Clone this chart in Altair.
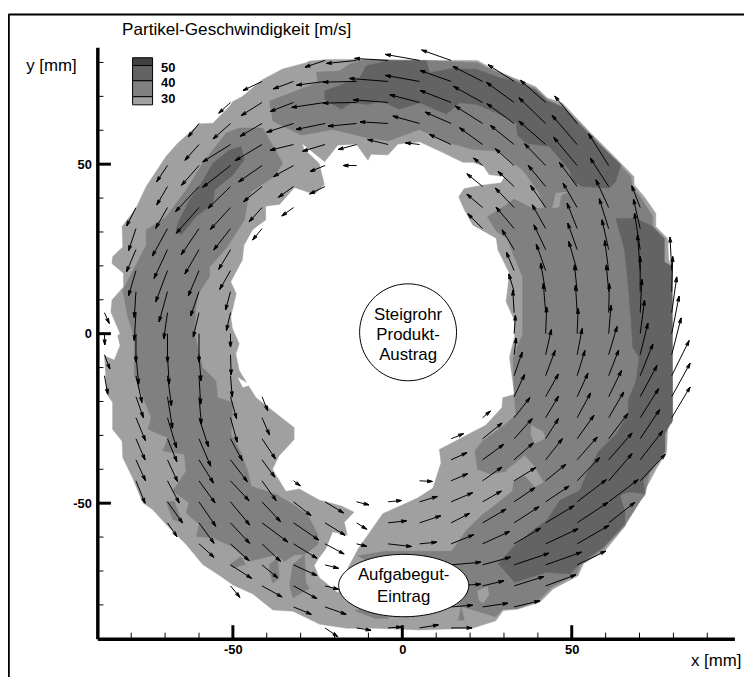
import math
import numpy as np
import pandas as pd
import altair as alt

FONT = "Liberation Sans"
LIGHT, MID, DARK, DARKEST = "#a0a0a0", "#808080", "#636363", "#404040"

# measured grid of vector origins [mm]
X_GRID = {-1: -87.9, 0: -78.6, 1: -69.3, 2: -60.0, 3: -50.7, 4: -41.4, 5: -32.1, 6: -22.8, 7: -13.5, 8: -4.2,
          9: 5.1, 10: 14.4, 11: 23.7, 12: 33.0, 13: 42.3, 14: 51.6, 15: 60.9, 16: 70.2, 17: 79.5}
Y_GRID = [80.6, 74.4, 68.2, 62.0, 55.8, 49.6, 43.4, 37.2, 31.0, 24.8, 18.6, 12.4, 6.2, 0.0, -6.2, -12.4, -18.6,
          -24.8, -31.0, -37.2, -43.4, -49.6, -55.8, -62.0, -68.2, -74.4, -80.6, -86.8]

# vectors per row: (column, u, v) with v counted downwards
ROWS = {
 0: [(6,-60,20),(7,-90,9),(8,-100,-6),(9,-102,-18),(10,-88,-31)],
 1: [(4,-57,27),(5,-60,22),(6,-85,11),(7,-100,2),(8,-116,-9),(9,-102,-18),(10,-93,-33),(11,-89,-45),(12,-78,-50)],
 2: [(3,-35,32),(4,-62,39),(5,-70,27),(6,-100,15),(7,-100,2),(8,-104,-8),(9,-89,-23),(10,-93,-36),(11,-87,-48),(12,-83,-60),(13,-75,-66)],
 3: [(2,-32,40),(3,-52,46),(4,-65,38),(5,-80,26),(6,-87,18),(7,-85,8),(8,-84,-5),(9,-80,-22),(10,-78,-34),(11,-82,-52),(12,-81,-59),(13,-80,-77),(14,-67,-82)],
 4: [(2,-42,47),(3,-83,52),(4,-80,48),(5,-70,17),(6,-67,20),(7,-55,15),(8,-61,-15),(9,-42,-5),(10,-65,-30),(11,-69,-50),(12,-71,-57),(13,-80,-70),(14,-75,-87)],
 5: [(1,-32,48),(2,-52,59),(3,-83,65),(4,-70,49),(5,-60,33),(6,-45,18),(7,-40,0),(11,-27,-22),(12,-56,-50),(13,-63,-65),(14,-70,-84),(15,-60,-95)],
 6: [(1,-32,55),(2,-70,75),(3,-67,65),(4,-55,45),(5,-45,32),(6,-46,22),(11,-47,-38),(12,-48,-45),(13,-52,-63),(14,-53,-72),(15,-55,-85)],
 7: [(0,-28,55),(1,-35,62),(2,-68,77),(3,-60,65),(4,-38,42),(5,-35,25),(11,-47,-40),(12,-56,-58),(13,-45,-66),(14,-42,-73),(15,-38,-83),(16,-25,-65)],
 8: [(0,-22,66),(1,-45,82),(2,-53,78),(3,-50,64),(4,-28,34),(11,-44,-44),(12,-54,-64),(13,-40,-71),(14,-30,-76),(15,-28,-89),(16,-20,-88)],
 9: [(0,-28,66),(1,-40,86),(2,-42,73),(3,-35,59),(12,-36,-59),(13,-35,-74),(14,-28,-79),(15,-20,-89),(16,-17,-109)],
 10: [(0,-22,75),(1,-35,93),(2,-32,76),(3,-32,56),(12,-23,-55),(13,-28,-79),(14,-25,-87),(15,-12,-90),(16,-8,-107),(17,-5,-100)],
 11: [(0,-5,77),(1,-25,90),(2,-25,73),(3,-15,55),(12,-16,-53),(13,-15,-85),(14,-8,-80),(15,-7,-80),(16,0,-105),(17,3,-105)],
 12: [(-1,14,32),(0,-5,83),(1,-11,78),(2,-17,73),(3,-12,53),(12,-4,-67),(13,-7,-87),(14,-5,-82),(15,2,-87),(16,5,-99),(17,15,-107)],
 13: [(-1,1,33),(0,0,85),(1,0,85),(2,0,85),(3,0,40),(12,4,-55),(13,3,-80),(14,3,-75),(15,7,-85),(16,13,-100),(17,22,-112)],
 14: [(-1,16,43),(0,8,88),(1,5,88),(2,6,78),(3,2,60),(12,6,-50),(13,17,-75),(14,15,-78),(15,25,-84),(16,23,-94),(17,28,-110)],
 15: [(-1,10,55),(0,18,80),(1,12,90),(2,5,85),(3,5,63),(12,24,-70),(13,28,-75),(14,23,-75),(15,30,-77),(16,38,-95),(17,52,-105)],
 16: [(0,22,62),(1,15,94),(2,7,82),(3,18,65),(4,17,42),(12,31,-66),(13,38,-68),(14,32,-70),(15,38,-78),(16,50,-93),(17,55,-100)],
 17: [(0,28,68),(1,27,90),(2,28,86),(3,20,73),(4,22,51),(11,23,-20),(12,47,-60),(13,38,-64),(14,40,-74),(15,45,-77),(16,55,-87),(17,55,-92)],
 18: [(0,27,63),(1,28,68),(2,35,82),(3,35,65),(4,40,60),(10,37,-15),(11,58,-47),(12,54,-60),(13,38,-60),(14,50,-70),(15,57,-75),(16,58,-87)],
 19: [(0,28,62),(1,30,65),(2,43,69),(3,50,65),(4,38,52),(10,47,-21),(11,63,-46),(12,57,-50),(13,50,-63),(14,60,-68),(15,70,-80),(16,67,-86)],
 20: [(0,27,67),(1,35,66),(2,48,66),(3,55,59),(4,42,59),(5,20,15),(9,38,2),(10,49,-21),(11,58,-41),(12,64,-39),(13,60,-49),(14,67,-69),(15,70,-81),(16,75,-79)],
 21: [(1,45,63),(2,50,73),(3,57,69),(4,55,59),(5,52,41),(6,55,33),(7,37,9),(8,40,-4),(9,53,-16),(10,64,-27),(11,56,-32),(12,62,-42),(13,70,-47),(14,87,-66),(15,88,-66)],
 22: [(1,28,41),(2,45,61),(3,57,61),(4,77,57),(5,75,51),(6,60,37),(7,30,19),(8,55,-6),(9,63,-21),(10,55,-28),(11,70,-41),(12,74,-48),(13,85,-51),(14,92,-61),(15,78,-61)],
 23: [(2,45,40),(3,55,50),(4,55,52),(5,70,43),(6,57,30),(7,30,7),(8,70,8),(9,51,-5),(10,67,-27),(11,81,-37),(12,79,-47),(13,97,-45),(14,95,-55)],
 24: [(3,63,40),(4,47,39),(5,70,32),(6,40,10),(10,89,-8),(11,83,-23),(12,104,-35),(13,107,-38),(14,85,-41)],
 25: [(3,28,34),(4,60,33),(5,70,38),(6,40,10),(10,89,-5),(11,63,-15),(12,89,-28),(13,90,-33)],
 26: [(5,53,22),(6,63,22),(10,64,-5),(11,76,-11),(12,76,-18)],
 27: [(6,38,26),(7,43,7),(8,40,-3),(9,56,-9),(10,62,0)],
}
VECTOR_SCALE = 1 / 10.15

OUTER = [(-27.4,80.4),(-22,80.9),(-7.9,80.9),(7.9,80.6),(22.2,80.6),(26.1,78.4),(33,75.4),(39.4,72.8),(42.8,69.5),(47.3,68),
 (55.1,59.7),(64.5,50.3),(68.4,46.3),(68.4,43.9),(71.4,40.4),(74.8,35.5),(74.8,31.6),(78.3,28.1),(78.6,21.7),(79.6,19.7),
 (79.6,-25.7),(78.3,-27.7),(78,-34.9),(75,-39.8),(72.1,-45.2),(71.6,-47.7),(66.2,-53.6),(65.9,-56.6),(59.8,-64),(53.4,-67.9),(51.9,-71.4),
 (44.5,-75.3),(40.6,-79.2),(34.2,-81.2),(29.7,-81.7),(27.6,-84.7),(20.7,-86.9),(4.9,-87.4),(-7.9,-86.9),(-16.5,-86.9),
 (-24.4,-85.7),(-32.3,-81.9),(-38.2,-81.5),(-44.1,-76.8),(-50,-74.1),(-53.5,-71.6),(-58.9,-68.1),(-63.8,-62.2),(-69.7,-56.3),
 (-73.7,-51.9),(-76.6,-49.9),(-79.6,-42.5),(-82.5,-36.6),(-82.7,-31.7),(-85.5,-28.2),(-85.5,-20.3),(-87.2,-17.8),(-87.9,-6.5),
 (-85,-7.8),(-83.3,-3.5),(-84,-0.6),(-83.3,0),(-86,6.4),(-85.7,9.9),(-82.3,13.8),(-82.3,17.8),(-85.7,20.7),(-85.5,22.7),(-82.5,25.6),
 (-82.7,31.6),(-78.6,37),(-75.6,43.4),(-69.7,52.3),(-66.3,56.2),(-59.9,61.9),(-55.9,62.1),(-51,67.1),(-50,68.5),(-47.1,70),
 (-41.2,75),(-35.3,78.1),(-28.4,79.9)]
HOLE = [(-29.4,55.8),(-22.9,50.6),(-19,55.5),(-13.6,55.8),(-10.1,50.9),(-9.2,52.8),(-4.2,52.6),(-1.3,55.8),(5.1,56.5),(12,53.3),(17.9,50.4),
 (20.9,50.4),(23.8,49.4),(25.6,46.8),(30,46.3),(29.1,44.6),(23.6,43.9),(18.2,42.9),(16.5,40.4),
 (18.2,36.5),(20.7,32),(27.6,28.1),(28.1,24.7),(31.5,17.8),(30.5,9.4),(33,3.9),(33,-1),(31.5,-7),(33,-17.8),(29.5,-18.8),(29.3,-21.8),
 (24.6,-26.9),(10.8,-34.1),(11.3,-38.1),(8.9,-45.5),(4.4,-48.4),(-5.8,-53),(-13.1,-63.4),(-16.1,-69),(-19,-76.3),
 (-24.4,-71.9),(-25.9,-68.4),(-24.4,-66),(-22.5,-63.5),(-20.5,-58.6),(-16.1,-59.5),(-17,-55.6),(-14.1,-52.6),(-18,-50.7),
 (-24.4,-49),(-30.4,-45.7),(-34.3,-46.4),(-38.2,-40),(-36.3,-36.1),(-31.8,-31.2),(-31.8,-27.7),(-43.1,-18.8),(-45.2,-15.4),(-48,-10.9),(-49,-6),
 (-48,-3),(-50,1.5),(-50.5,4.9),(-48.9,11.8),(-50.5,15.3),(-47.1,21.7),(-46.6,26.1),(-44.1,30.6),(-40.2,33.5),(-40.2,37.5),(-36.2,38),
 (-31.8,43),(-25.9,41),(-22.9,44),(-24.4,50.2),(-28.9,54.5)]
HOLE_SPOT = [(-48.5,-13),(-46,-14.5),(-44.5,-15),(-47,-15.8)]
MID_LEFT = [(-82.5,12.8),(-75.6,26.1),(-75.6,30.6),(-69.7,34.5),(-63.8,42.4),(-58.9,50.3),(-52,59.2),(-48.1,60.7),(-41.2,60.7),(-39.2,57.2),
 (-35.3,50.3),(-37.7,46.4),(-44.6,41.9),(-45.6,39.4),(-46.6,33.5),(-52,25.1),(-56.9,19.7),(-56.9,16.8),(-59.9,12.3),(-60.9,7.9),(-61.3,0),
 (-58.9,-10),(-55,-13.9),(-54.5,-18.8),(-50,-20.3),(-50.5,-29.7),(-47.6,-35.1),(-45.6,-40.5),(-44.6,-45),(-37.2,-47.4),(-32.3,-50.4),
 (-27.9,-53.4),(-24.9,-59.3),(-24.9,-62.2),(-28.9,-65.2),(-31.8,-65.2),(-34.8,-67.2),(-37.2,-65.2),(-41.2,-66.2),(-45.1,-67.2),(-50.5,-62.7),
 (-55.9,-60.2),(-60.8,-59.8),(-59.9,-56.3),(-63.8,-52.9),(-63,-49.9),(-67.7,-46.4),(-63.8,-40.5),(-64.3,-35.6),(-70.7,-34.6),(-69.2,-30.7),
 (-75.1,-28.2),(-74.1,-24.8),(-79.1,-12.4),(-79.1,-1.1),(-81,4.9)]
MID_SMALL = [
 [(-69.7,-49.6),(-67.3,-49.4),(-65,-55.8),(-67.7,-54.8)],
 [(-51,-68.1),(-47.6,-65.7),(-46.3,-68.1),(-50,-69.1)],
 [(-39.2,-68.1),(-36.8,-66.2),(-36.3,-72.1),(-38.2,-73.6),(-39.2,-70.1)],
 [(-32.3,-68.1),(-28.9,-65.2),(-28.4,-73.6),(-27.4,-75.1),(-32.3,-78),(-33.3,-74.1)],
 [(-14,-81.7),(-8,-84),(-4,-84),(-8,-80)],
 [(16.5,-84.5),(17.4,-80.5),(18.3,-84.5)],
]
MID_RIGHT = [(-38.2,62.7),(-39.2,68.6),(-24.9,74.1),(-25.4,77.2),(-18.5,77.5),(-15.6,79.5),(-11.6,80.7),(7.9,80.6),(22.2,79.9),(26.1,77.9),(33,75),(39.4,72.2),(42.8,69),
 (47.3,67),(55.1,59.2),(64,49.8),(67.4,46.4),(67.9,43.4),(70.9,39.4),(73.9,34.5),(73.9,31.1),(77.3,28.1),(77.3,21.2),(79.6,19.7),(79.6,-26.2),
 (77.1,-28.2),(77.1,-35),(73,-41),(71.6,-47.2),(65.7,-56.6),(59.3,-63.5),(52.4,-68.4),(51.4,-71),(44,-74.8),(40.1,-78.8),(33.7,-81.2),
 (29.7,-81.2),(27.5,-83.5),(24.8,-82.7),(19.9,-81.2),(10,-78),(-13.2,-65.5),(-5,-64.2),(14.5,-64.2),(18.9,-58),
 (23.6,-53.4),(27.6,-50.4),(32.5,-46.4),(33,-43),(31,-40.5),(26.1,-41.5),(22.2,-40),(21.4,-34.6),(23.6,-31.7),(30.5,-26.7),(33.5,-23.8),
 (33,-17.8),(32.7,-7),(35.5,0),(35.5,16.8),(33,22.7),(31,28.1),(27.8,30.1),(25.1,34.5),(30,37.5),(33,39.7),(38.4,37),(41.9,37),(40.4,41.4),
 (38.4,44.4),(35.5,48.3),(31.5,51.3),(28.8,53.8),(20.9,54.3),(12,56.8),(5.1,60.2),(-4.2,56.8),(-10.6,57.8),(-20.5,60.2),(-29.8,58.5)]
LIGHT_SPOTS = [
 [(44.3,37),(45.3,41.4),(48.7,41.8),(46.8,40.8),(46.3,37.4)],
 [(38.1,-27),(41.6,-29),(42.1,-30.9),(39.1,-32.4),(37.9,-29.7)],
 [(30.7,-40.3),(36.1,-35.9),(39.1,-39.3),(41.6,-43.8),(39.1,-45.2),(36.1,-41.8),(33.2,-43.3)],
 [(22.2,-76),(25.1,-74.6),(25.6,-77),(23.8,-79.5),(22.6,-78.5)],
]
DARK_POLYS = [
 [(-22.9,71.6),(-12.6,75.5),(-10.6,79),(-4.2,80.5),(7.1,80.5),(8.1,77),(14.5,78.2),(21.9,78),(28.8,75.5),(33,74.5),(39.4,71.8),
  (42.8,68.7),(47.8,66.6),(55.1,58.7),(64.5,49.8),(63,44.9),(61,42.9),(53.2,43.4),(50.3,44.9),(49.3,48.3),(43.4,55.2),(36.5,56.2),(33.9,58.7),
  (33.7,62.1),(28.8,64.7),(21.9,67.6),(17,68.1),(13,64.7),(5.1,68.1),(-0.8,66.2),(-6.2,68.6),(-10.1,67.6),(-15,68.1),(-18,66.2),(-22.9,69.1)],
 [(63,34),(68.9,34),(73.9,31.6),(77.3,28.1),(77.3,21.2),(79.6,19.7),(79.8,-25.5),(77.5,-29.5),(77.5,-34.9),(75,-38.3),(71.1,-43.3),(71.6,-47.2),
  (66.7,-46.7),(64.2,-47.7),(65.7,-52.6),(65.7,-56.1),(59.3,-63),(52.4,-67.9),(49.4,-70.9),(42.6,-70.4),(33.2,-73.3),(28.3,-67.9),(32.7,-63),
  (39.6,-57.1),(42.6,-55.1),(46.5,-49.2),(52.4,-46.2),(54.4,-41.3),(57.8,-34.9),(63.2,-29.5),(66.7,-23.5),(66.7,-19.6),(69,-13.9),(69.9,-7),
  (68,-4),(67.5,3.9),(66.5,15.8),(65.5,25.1)],
 [(-65.8,33.5),(-62.8,39.4),(-59.9,43.4),(-55.9,50.3),(-51,54.2),(-47.6,55.2),(-46.6,51.3),(-50,46.8),(-55.4,42.4),(-55.9,38.5),(-60.9,34.5),(-65.3,29.1),(-66.8,30.6)],
]

# ellipses: centre x, centre y, radius x, radius y [mm]
PIPE = (1.7, 0.4, 14.3, 14.3)
FEED = (0.4, -74.3, 19.2, 9.2)
MAJOR = [-50, 0, 50]
X_TICKS = [-80, -70, -60, -40, -30, -20, -10, 10, 20, 30, 40, 60, 70, 80, 90]
Y_TICKS = [-80, -70, -60, -40, -30, -20, -10, 10, 20, 30, 40, 60, 70, 80]
LEGEND_EDGES = [81.4, 79.1, 74.6, 69.9, 67.5]
LEGEND_COLORS = [DARKEST, DARK, MID, LIGHT]
LEGEND_LABELS = [("50", 78.4), ("40", 74.0), ("30", 69.3)]
PLOT_TEXT = [
 ("Steigrohr", 1.7, 5.5, 17, "center"), ("Produkt-", 1.7, -0.4, 17, "center"), ("Austrag", 1.7, -6.3, 17, "center"),
 ("Aufgabegut-", 0.4, -71.3, 17, "center"), ("Eintrag", 0.4, -77.6, 17, "center"),
 ("Partikel-Geschwindigkeit [m/s]", -82.7, 89.6, 17.3, "left"), ("y [mm]", -111, 78.9, 17, "left"),
 ("x [mm]", 92.6, -96.5, 17, "center"),
]

xs = alt.Scale(domain=[-90, 98], nice=False, zero=False)
ys = alt.Scale(domain=[-90, 84.5], nice=False, zero=False)
axis_common = dict(title=None, values=MAJOR, ticks=False, grid=False, domainColor="black", domainWidth=3.5,
                   labelFont=FONT, labelFontSize=13, labelFontWeight="bold", labelColor="black",
                   labelExpr="datum.value")
X = alt.X("x:Q", scale=xs, axis=alt.Axis(labelPadding=5, **axis_common))
Y = alt.Y("y:Q", scale=ys, axis=alt.Axis(labelPadding=6, **axis_common))


def poly(points, color):
    df = pd.DataFrame([{"x": p[0], "y": p[1], "i": n} for n, p in enumerate(points)])
    return alt.Chart(df).mark_line(fill=color, stroke=color, strokeWidth=0.4, interpolate="linear-closed").encode(
        x=X, y=Y, order="i:Q")


def ellipse(e):
    cx, cy, rx, ry = e
    t = np.linspace(0, 2 * np.pi, 90, endpoint=False)
    df = pd.DataFrame({"x": cx + rx * np.cos(t), "y": cy + ry * np.sin(t), "i": np.arange(90)})
    return alt.Chart(df).mark_line(fill="white", stroke="black", strokeWidth=1, interpolate="linear-closed").encode(
        x=X, y=Y, order="i:Q")


def rules(df, width):
    return alt.Chart(df).mark_rule(color="black", strokeWidth=width).encode(
        x=X, y=Y, x2="x2:Q", y2="y2:Q")


# arrows
segs = []
for r, items in ROWS.items():
    for c, u, v in items:
        x0, y0 = X_GRID[c], Y_GRID[r]
        x1, y1 = x0 + u * VECTOR_SCALE, y0 - v * VECTOR_SCALE
        segs.append((x0, y0, x1, y1))
        a = math.atan2(y0 - y1, x0 - x1)
        for s in (-0.3, -0.15, 0.15, 0.3):
            segs.append((x1, y1, x1 + 1.6 * math.cos(a + s), y1 + 1.6 * math.sin(a + s)))
arrows = pd.DataFrame(segs, columns=["x", "y", "x2", "y2"])

minor = pd.DataFrame([(t, -90, t, -88.2) for t in X_TICKS] + [(-90, t, -88.2, t) for t in Y_TICKS],
                     columns=["x", "y", "x2", "y2"])
major = pd.DataFrame([(t, -90, t, -86) for t in MAJOR] + [(-90, t, -86, t) for t in MAJOR],
                     columns=["x", "y", "x2", "y2"])

legend_df = pd.DataFrame({"x": -79.6, "x2": -73.7, "y": LEGEND_EDGES[:-1], "y2": LEGEND_EDGES[1:], "c": LEGEND_COLORS})
legend = alt.Chart(legend_df).mark_rect(stroke="black", strokeWidth=1).encode(
    x=X, x2="x2:Q", y=Y, y2="y2:Q", fill=alt.Fill("c:N", scale=None))
legend_text = alt.Chart(pd.DataFrame({"t": [l[0] for l in LEGEND_LABELS], "y": [l[1] for l in LEGEND_LABELS], "x": -71.2})).mark_text(
    font=FONT, fontSize=13, fontWeight="bold", align="left", baseline="middle", color="black").encode(x=X, y=Y, text="t:N")

texts = [alt.Chart(pd.DataFrame({"t": [t], "x": [x], "y": [y]})).mark_text(
    font=FONT, fontSize=fs, align=al, baseline="middle", color="black").encode(x=X, y=Y, text="t:N")
    for t, x, y, fs, al in PLOT_TEXT]

frame_l = alt.Chart(pd.DataFrame({"a": [0]})).mark_rule(color="black", strokeWidth=2).encode(
    x=alt.value(-89.5), y=alt.value(-33), y2=alt.value(640))
frame_t = alt.Chart(pd.DataFrame({"a": [0]})).mark_rule(color="black", strokeWidth=2).encode(
    x=alt.value(-90), x2=alt.value(660), y=alt.value(-33))

layers = [poly(OUTER, LIGHT), poly(HOLE, "white"), poly(HOLE_SPOT, "white"), poly(MID_LEFT, MID)]
layers += [poly(p, MID) for p in MID_SMALL]
layers += [poly(MID_RIGHT, MID)]
layers += [poly(p, LIGHT) for p in LIGHT_SPOTS]
layers += [poly(p, DARK) for p in DARK_POLYS]
layers += [rules(arrows, 1), ellipse(PIPE), ellipse(FEED), rules(minor, 1), rules(major, 3), legend, legend_text]
layers += texts + [frame_l, frame_t]

chart = alt.layer(*layers).properties(
    width=644, height=598, autosize="none",
    padding={"left": 90.3, "top": 36, "right": 9.7, "bottom": 35},
).configure_view(stroke=None)

chart.save("out.html", embed_options={"renderer": "svg", "actions": False})
